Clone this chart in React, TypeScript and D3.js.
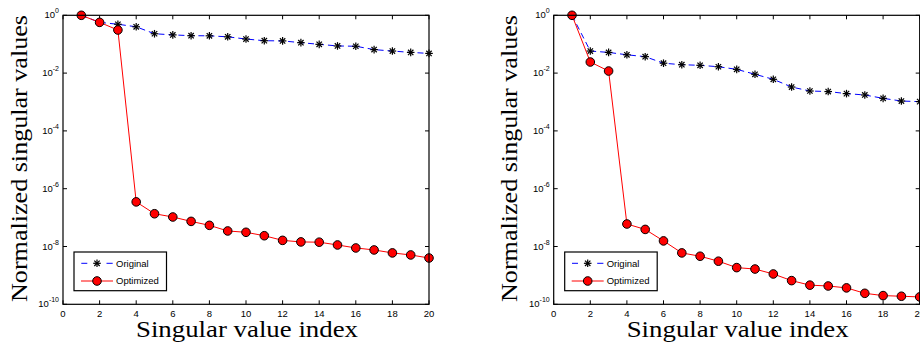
import React from "react";
import * as d3 from "d3";

// Singular value index (1..20)
const indices = d3.range(1, 21);

// Left panel
const leftOriginal = [1, 0.57, 0.49, 0.40, 0.23, 0.21, 0.197, 0.195, 0.18, 0.151, 0.132, 0.13, 0.113, 0.099, 0.087, 0.085, 0.065, 0.058, 0.052, 0.048];
const leftOptimized = [1, 0.57, 0.31, 3.5e-7, 1.36e-7, 1.05e-7, 7.4e-8, 5.4e-8, 3.45e-8, 3.1e-8, 2.36e-8, 1.63e-8, 1.44e-8, 1.41e-8, 1.13e-8, 8.9e-9, 7.6e-9, 6.0e-9, 5.1e-9, 4.0e-9];

// Right panel
const rightOriginal = [1, 0.058, 0.052, 0.043, 0.037, 0.022, 0.0195, 0.0186, 0.0166, 0.0135, 0.0091, 0.0061, 0.0033, 0.0024, 0.0023, 0.00195, 0.00175, 0.00134, 0.00108, 0.00103];
const rightOptimized = [1, 0.0242, 0.0118, 6.0e-8, 3.9e-8, 1.56e-8, 6.0e-9, 4.6e-9, 3.1e-9, 1.86e-9, 1.66e-9, 1.12e-9, 6.6e-10, 4.6e-10, 4.3e-10, 3.7e-10, 2.4e-10, 2.0e-10, 1.9e-10, 1.8e-10];

const xTicks = [0, 2, 4, 6, 8, 10, 12, 14, 16, 18, 20];
const yTickExponents = [0, -2, -4, -6, -8, -10];
const seriesNames = ["Original", "Optimized"];

const xLabel = "Singular value index";
const yLabel = "Normalized singular values";

const serif = "'Liberation Serif', 'DejaVu Serif', serif";
const sans = "'Liberation Sans', Arial, sans-serif";

function Asterisk({ x, y, r = 3.8 }: { x: number; y: number; r?: number }) {
  const d = r * Math.SQRT1_2;
  return (
    <g stroke="#000" strokeWidth={1.2}>
      <line x1={x - r} y1={y} x2={x + r} y2={y} />
      <line x1={x} y1={y - r} x2={x} y2={y + r} />
      <line x1={x - d} y1={y - d} x2={x + d} y2={y + d} />
      <line x1={x - d} y1={y + d} x2={x + d} y2={y - d} />
    </g>
  );
}

function Panel({ left, original, optimized }: { left: number; original: number[]; optimized: number[] }) {
  const top = 15.3;
  const bottom = 304.3;
  const width = 366;
  const x = d3.scaleLinear().domain([0, 20]).range([left, left + width]);
  const y = d3.scaleLog().domain([1e-10, 1]).range([bottom, top]);
  const line = d3
    .line<number>()
    .x((_, i) => x(indices[i]))
    .y((v) => y(v));
  const tick = 4;
  const lx = left + 11;
  const ly = 252;

  return (
    <g>
      {/* axis titles */}
      <text
        x={(x(0) + x(20)) / 2 + 1}
        y={337}
        textAnchor="middle"
        fontFamily={serif}
        fontSize={23}
        textLength={222}
        lengthAdjust="spacingAndGlyphs"
        fill="#000"
      >
        {xLabel}
      </text>
      <text
        transform={`translate(${left - 36.5},${158.5}) rotate(-90)`}
        textAnchor="middle"
        fontFamily={serif}
        fontSize={23}
        textLength={287}
        lengthAdjust="spacingAndGlyphs"
        fill="#000"
      >
        {yLabel}
      </text>

      {/* ticks */}
      {xTicks.map((t) => (
        <g key={`xt${t}`}>
          <line x1={x(t)} x2={x(t)} y1={bottom} y2={bottom - tick} stroke="#000" />
          <line x1={x(t)} x2={x(t)} y1={top} y2={top + tick} stroke="#000" />
          <text x={x(t)} y={316.5} textAnchor="middle" fontFamily={sans} fontSize={9.5} fill="#000">
            {t}
          </text>
        </g>
      ))}
      {yTickExponents.map((e) => {
        const yy = y(Math.pow(10, e));
        return (
          <g key={`yt${e}`}>
            <line x1={left} x2={left + tick} y1={yy} y2={yy} stroke="#000" />
            <line x1={left + width} x2={left + width - tick} y1={yy} y2={yy} stroke="#000" />
            <text x={left - 4} y={yy + 3} textAnchor="end" fontFamily={sans} fontSize={9.5} fill="#000">
              10
              <tspan dy={-5} fontSize={7}>
                {e}
              </tspan>
            </text>
          </g>
        );
      })}

      {/* series */}
      <path d={line(original) || ""} fill="none" stroke="#0000ff" strokeWidth={1} strokeDasharray="6,4" />
      {original.map((v, i) => (
        <Asterisk key={`o${i}`} x={x(indices[i])} y={y(v)} />
      ))}
      <path d={line(optimized) || ""} fill="none" stroke="#ff0000" strokeWidth={1} />
      {optimized.map((v, i) => (
        <circle key={`p${i}`} cx={x(indices[i])} cy={y(v)} r={4.3} fill="#ff0000" stroke="#000" strokeWidth={1} />
      ))}

      {/* frame */}
      <rect x={left} y={top} width={width} height={bottom - top} fill="none" stroke="#000" strokeWidth={1.2} />

      {/* legend */}
      <rect x={lx} y={ly} width={92.5} height={38.7} fill="#fff" stroke="#000" strokeWidth={1.2} />
      <line x1={lx + 7.3} x2={lx + 13.3} y1={ly + 11.3} y2={ly + 11.3} stroke="#0000ff" />
      <line x1={lx + 32.5} x2={lx + 38.7} y1={ly + 11.3} y2={ly + 11.3} stroke="#0000ff" />
      <Asterisk x={lx + 23} y={ly + 11.3} />
      <text x={lx + 42} y={ly + 14.5} fontFamily={sans} fontSize={9.5} fill="#000">
        {seriesNames[0]}
      </text>
      <line x1={lx + 7} x2={lx + 39} y1={ly + 29} y2={ly + 29} stroke="#ff0000" />
      <circle cx={lx + 23} cy={ly + 29} r={4.3} fill="#ff0000" stroke="#000" />
      <text x={lx + 42} y={ly + 32.2} fontFamily={sans} fontSize={9.5} fill="#000">
        {seriesNames[1]}
      </text>
    </g>
  );
}

export default function App() {
  return (
    <svg
      width={920}
      height={343}
      style={{ position: "absolute", left: 0, top: 0, background: "#fff" }}
    >
      <rect width={920} height={343} fill="#fff" />
      <Panel left={63} original={leftOriginal} optimized={leftOptimized} />
      <Panel left={553.7} original={rightOriginal} optimized={rightOptimized} />
    </svg>
  );
}
